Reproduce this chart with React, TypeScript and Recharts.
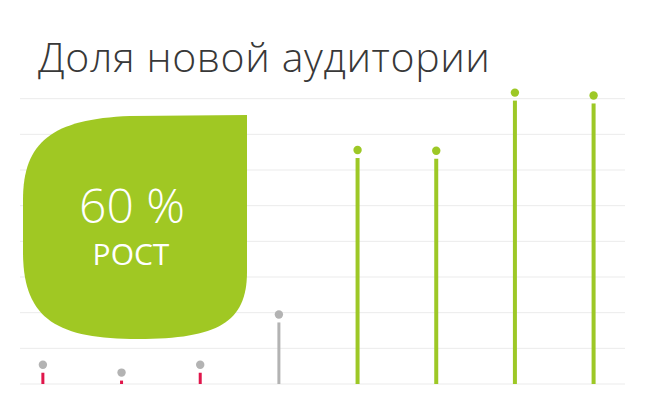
import { ComposedChart, Bar, XAxis, YAxis, CartesianGrid } from 'recharts';

// month index of each stem (no labels are shown on the axis)
const periods = [0, 1, 2, 3, 4, 5, 6, 7];
const shares = [5.4, 3.2, 5.4, 19.5, 65.6, 65.4, 81.7, 80.9];
const groups = ['before', 'before', 'before', 'start', 'after', 'after', 'after', 'after'];
const gridTicks = [0, 10, 20, 30, 40, 50, 60, 70, 80];

const title = 'Доля новой аудитории';
const badgeValue = '60 %';
const badgeLabel = 'РОСТ';

const stemColor: Record<string, string> = {
  before: '#e0164b',
  start: '#b3b3b3',
  after: '#9dc826',
};
const dotColor: Record<string, string> = {
  before: '#b3b3b3',
  start: '#b3b3b3',
  after: '#9dc826',
};

const data = periods.map((p, i) => ({ period: p, share: shares[i], group: groups[i] }));

const Lollipop = (props: any) => {
  const { x, y, width, height, payload } = props;
  const cx = x + width / 2;
  const base = y + height;
  const top = y + 8;
  const g = payload.group;
  const w = g === 'after' ? 4 : 3;
  return (
    <g>
      {base - top > 0 && (
        <rect x={cx - w / 2} y={top} width={w} height={base - top} fill={stemColor[g]} />
      )}
      <circle cx={cx} cy={y} r={4.2} fill={dotColor[g]} />
    </g>
  );
};

export default function App() {
  return (
    <div style={{ position: 'fixed', left: 0, top: 0, width: 656, height: 411, background: '#fff' }}>
      <ComposedChart
        width={656}
        height={411}
        data={data}
        margin={{ top: 63, right: 31, left: 20, bottom: 27 }}
      >
        <CartesianGrid
          vertical={false}
          horizontalValues={gridTicks}
          stroke="#ebebeb"
          strokeWidth={1}
        />
        <XAxis dataKey="period" type="number" domain={[-0.295, 7.395]} hide />
        <YAxis type="number" domain={[0, 90]} ticks={gridTicks} hide />
        <Bar dataKey="share" barSize={10} shape={Lollipop} isAnimationActive={false} />
      </ComposedChart>
      <svg
        width={656}
        height={411}
        style={{ position: 'absolute', left: 0, top: 0, pointerEvents: 'none' }}
      >
        <text
          x={38}
          y={72}
          fontFamily="'Open Sans', sans-serif"
          fontWeight={300}
          fontSize={41}
          letterSpacing={0.6}
          fill="#383838"
        >
          {title}
        </text>
        <path
          d="M 247 115 L 247 272 C 247 322 218 339 138 339 C 58 339 23 320 23 252 L 23 200 C 23 142 52 119 130 116 Z"
          fill="#a0c823"
        />
        <text
          x={132}
          y={223}
          textAnchor="middle"
          fontFamily="'Open Sans', sans-serif"
          fontWeight={300}
          fontSize={48}
          fill="#fff"
        >
          {badgeValue}
        </text>
        <text
          x={131}
          y={265}
          textAnchor="middle"
          fontFamily="'Open Sans', sans-serif"
          fontWeight={400}
          fontSize={30}
          fill="#fff"
        >
          {badgeLabel}
        </text>
      </svg>
    </div>
  );
}
